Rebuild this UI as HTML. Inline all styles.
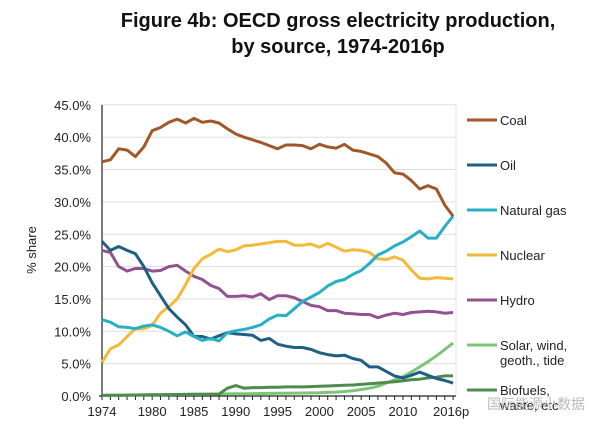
<!DOCTYPE html>
<html><head><meta charset="utf-8"><style>
body{margin:0;background:#fff;width:611px;height:429px;overflow:hidden;font-family:"Liberation Sans",Arial,sans-serif}
</style></head><body>
<svg id="s" width="611" height="429" xmlns="http://www.w3.org/2000/svg" font-family="Liberation Sans, Arial, sans-serif">
<text x="338" y="27" text-anchor="middle" font-size="20" font-weight="bold" fill="#111">Figure 4b: OECD gross electricity production,</text>
<text x="338" y="53" text-anchor="middle" font-size="20" font-weight="bold" fill="#111">by source, 1974-2016p</text>
<text transform="translate(36,250) rotate(-90)" text-anchor="middle" font-size="13" fill="#222">% share</text>
<g id="g"></g>
</svg>
<script>
const NS="http://www.w3.org/2000/svg",g=document.getElementById('g');
function el(t,a,txt){const e=document.createElementNS(NS,t);for(const k in a)e.setAttribute(k,a[k]);if(txt)e.textContent=txt;g.appendChild(e);return e;}
const X=y=>102+(y-1974)*8.36, Y=v=>396-v*6.47;
for(let i=0;i<=9;i++){const v=i*5,y=Y(v);
 if(i>0)el('line',{x1:102,x2:456,y1:y,y2:y,stroke:'#ddd','stroke-width':1});
 el('text',{x:91,y:y+5,'text-anchor':'end','font-size':13,fill:'#222'},v.toFixed(1)+'%');}
el('line',{x1:456,x2:456,y1:Y(45),y2:396,stroke:'#e4e4e4'});
el('line',{x1:102,x2:102,y1:Y(45),y2:396,stroke:'#222','stroke-width':1.2});
el('line',{x1:99,x2:456,y1:396,y2:396,stroke:'#222','stroke-width':1.2});
for(let y=1974;y<=2016;y++)el('line',{x1:X(y),x2:X(y),y1:396,y2:400,stroke:'#222'});
[[1974,'1974'],[1980,'1980'],[1985,'1985'],[1990,'1990'],[1995,'1995'],[2000,'2000'],[2005,'2005'],[2010,'2010'],[2016,'2016p']].forEach(([y,t])=>el('text',{x:y==2016?X(y)-2:X(y),y:416,'text-anchor':'middle','font-size':13,fill:'#222'},t));
const D={
coal:['#a0582a',[36.2,36.5,38.2,38,37,38.5,41,41.5,42.3,42.8,42.2,42.9,42.3,42.5,42.2,41.3,40.5,40,39.6,39.2,38.7,38.2,38.8,38.8,38.7,38.2,38.9,38.5,38.3,38.9,38,37.8,37.4,37,36,34.5,34.3,33.3,32,32.5,32,29.5,27.8]],
gas:['#27b0c4',[11.8,11.4,10.7,10.6,10.4,10.8,11,10.6,10,9.3,9.9,9.2,8.6,8.9,8.5,9.8,10.1,10.3,10.6,11,11.9,12.5,12.4,13.5,14.6,15.3,16,17,17.7,18,18.8,19.4,20.5,21.8,22.4,23.2,23.8,24.6,25.5,24.4,24.4,26.2,27.8]],
nuc:['#f2b93b',[5.2,7.3,7.9,9.2,10.4,10.4,10.9,12.8,13.8,15,17.2,19.7,21.2,21.9,22.7,22.3,22.6,23.2,23.3,23.5,23.7,23.9,23.9,23.3,23.3,23.5,23,23.6,23,22.4,22.6,22.5,22.2,21.2,21.1,21.5,21,19.5,18.2,18.1,18.3,18.2,18.1]],
hyd:['#91528f',[22.5,22.2,20,19.3,19.7,19.7,19.3,19.4,20,20.2,19.3,18.5,18,17.1,16.6,15.4,15.4,15.5,15.3,15.8,14.9,15.5,15.5,15.2,14.6,14,13.8,13.2,13.2,12.8,12.7,12.6,12.6,12.1,12.5,12.8,12.6,12.9,13,13.1,13,12.8,12.9]],
oil:['#1f5f82',[23.9,22.5,23.1,22.5,22,20,17.5,15.5,13.5,12.2,11,9.2,9.2,8.8,9.3,9.8,9.6,9.5,9.4,8.6,8.9,8,7.7,7.5,7.5,7.2,6.7,6.4,6.2,6.3,5.8,5.5,4.5,4.5,3.8,3.1,2.8,3.2,3.7,3.2,2.7,2.4,2]],
sol:['#7cc576',null],bio:['#4f8a4f',null]};
const sol=[],bio=[];
for(let i=0;i<=42;i++){const y=1974+i;
 sol.push(y<2000?0.1+0.4*i/26:(y<=2016?[0.5,0.55,0.6,0.7,0.8,1.0,1.2,1.5,2.0,2.5,3.0,3.7,4.5,5.3,6.2,7.2,8.2][y-2000]:0));
 bio.push(y<1989?0.1+0.2*i/14:[1.2,1.6,1.2,1.3,1.3,1.35,1.35,1.4,1.4,1.4,1.45,1.5,1.55,1.6,1.65,1.7,1.8,1.9,2.0,2.1,2.2,2.35,2.5,2.6,2.8,2.9,3.1,3.1][y-1989]);}
D.sol[1]=sol;D.bio[1]=bio;
['sol','bio','hyd','nuc','oil','gas','coal'].forEach(k=>{const[c,v]=D[k];
 el('polyline',{points:v.map((d,i)=>X(1974+i).toFixed(1)+','+Y(d).toFixed(1)).join(' '),fill:'none',stroke:c,'stroke-width':3,'stroke-linejoin':'round'});});
const L=[['Coal','coal',120],['Oil','oil',165],['Natural gas','gas',210],['Nuclear','nuc',255],['Hydro','hyd',300],['Solar, wind,','sol',345],['Biofuels,','bio',390]];
L.forEach(([t,k,y])=>{el('line',{x1:467,x2:497,y1:y,y2:y,stroke:D[k][0],'stroke-width':3});
 el('text',{x:500,y:y+5,'font-size':13,fill:'#222'},t);});
el('text',{x:500,y:365,'font-size':13,fill:'#222'},'geoth., tide');
el('text',{x:500,y:410,'font-size':13,fill:'#222'},'waste, etc');
el('text',{x:487,y:409,'font-size':14,fill:'#bbb'},'国际能源小数据');
</script>
</body></html>
